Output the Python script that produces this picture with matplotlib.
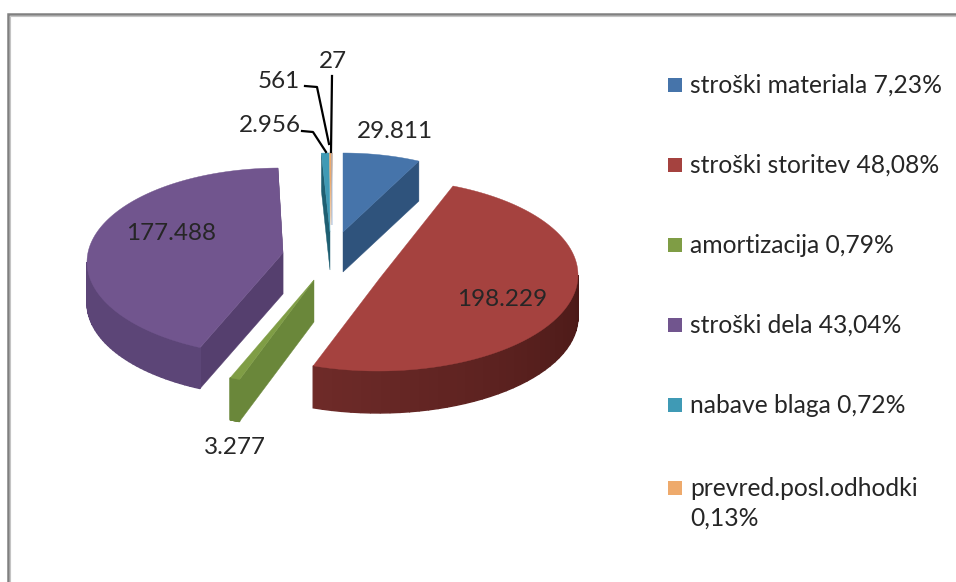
import numpy as np
import matplotlib
matplotlib.use("Agg")
import matplotlib.pyplot as plt
from matplotlib.patches import Polygon, Rectangle

plt.rcParams['font.family'] = ['Lato', 'DejaVu Sans']

# data
values = [29811, 198229, 3277, 177488, 2956, 561, 27]
value_labels = ["29.811", "198.229", "3.277", "177.488", "2.956", "561", "27"]
legend_labels = ["stroški materiala 7,23%", "stroški storitev 48,08%", "amortizacija 0,79%",
                 "stroški dela 43,04%", "nabave blaga 0,72%", "prevred.posl.odhodki\n0,13%"]

# colours: top, wall at the right, wall at the left
top_cols = ["#4674aa", "#a5423f", "#7f9d45", "#71558e", "#3f9ab5", "#eeaa6c", "#8fb0da"]
side_cols = ["#2f537c", "#4a1917", "#6a873a", "#553f6e", "#1f5f72", "#c98a50", "#6f8fb8"]
side_cols2 = ["#2f537c", "#6f2b29", "#6a873a", "#5c4577", "#1f5f72", "#c98a50", "#6f8fb8"]

# how each exploded slice sits in the picture (pixels), faked perspective
# ex, ey, rx, ry, apex x, apex y, depth, rotation, stretch, cut face at start, cut face at end
geom = [
    (343, 233, 173, 80, 343, 232, 40, 0, 1, False, True),
    (378, 275, 200, 96, 380, 278, 42, -4, 1.022, False, False),
    (305, 285, 200, 100, 314, 280, 42, 0, 1, True, False),
    (280, 262, 193, 94, 283, 253, 41, 2.5, 1, True, True),
    (331, 233, 178, 80, 330, 232, 38, 0, 1, True, False),
    (331, 233, 178, 80, 331, 225, 34, 0, 2, False, False),
    (332, 233, 178, 80, 332, 225, 34, 0, 1, False, False),
]
draw_order = [3, 2, 4, 5, 6, 0, 1]

label_pos = [(395, 132), (502, 300), (235, 448), (171, 234), (270, 125), (279, 82), (333, 61)]
leaders = {
    4: [(302, 131), (313, 132), (326, 152)],
    5: [(305, 86), (317, 87), (329, 144)],
    6: [(332, 76), (331, 152)],
}
legend_y = [85, 165, 245, 325, 405, 488]

fig = plt.figure(figsize=(9.56, 5.82), dpi=100)
ax = fig.add_axes([0, 0, 1, 1])
ax.set_xlim(0, 956)
ax.set_ylim(582, 0)
ax.axis('off')

# frame of the screenshot
ax.plot([8, 8, 956], [582, 13.5, 13.5], color="#808080", lw=1.8, solid_joinstyle='miter')
ax.plot([10, 10, 956], [582, 15.5, 15.5], color="#c4c4c4", lw=0.8, solid_joinstyle='miter')

bounds = np.concatenate([[0], np.cumsum(values)]) / sum(values) * 360


def ell(g, phi):
    a = np.radians(phi)
    return g[0] + g[2] * np.sin(a), g[1] - g[3] * np.cos(a)


def mix(c1, c2, t):
    c1 = np.array(matplotlib.colors.to_rgb(c1))
    c2 = np.array(matplotlib.colors.to_rgb(c2))
    return c1 * (1 - t) + c2 * t


for i in draw_order:
    g = geom[i]
    ex, ey, rx, ry, ax0, ay0, d, rot, stretch, cut_a, cut_b = g
    a0 = bounds[i] + rot
    a1 = a0 + (bounds[i + 1] - bounds[i]) * stretch
    phi = np.linspace(a0, a1, 120)
    x, y = ell(g, phi)

    # cut faces
    for flag, k in ((cut_a, 0), (cut_b, -1)):
        if flag:
            pts = [(ax0, ay0), (x[k], y[k]), (x[k], y[k] + d), (ax0, ay0 + d)]
            ax.add_patch(Polygon(pts, closed=True, fc=side_cols[i], ec=side_cols[i], lw=0.3))

    # outer wall, only the part turned to the viewer
    lo = max(a0, 90)
    hi = min(a1, 270)
    if hi > lo:
        steps = np.linspace(lo, hi, 40)
        for j in range(len(steps) - 1):
            xa, ya = ell(g, steps[j:j + 2])
            t = min((steps[j] - 90) / 110, 1)
            col = mix(side_cols[i], side_cols2[i], t)
            pts = [(xa[0], ya[0]), (xa[1], ya[1]), (xa[1], ya[1] + d), (xa[0], ya[0] + d)]
            ax.add_patch(Polygon(pts, closed=True, fc=col, ec=col, lw=1.0))

    # top
    pts = [(ax0, ay0)] + list(zip(x, y))
    ax.add_patch(Polygon(pts, closed=True, fc=top_cols[i], ec=top_cols[i], lw=0.3))

for i, pts in leaders.items():
    ax.plot([p[0] for p in pts], [p[1] for p in pts], color="black", lw=1.6)

for lab, pos in zip(value_labels, label_pos):
    ax.text(pos[0], pos[1], lab, fontsize=17.5, color="#262626", ha='center', va='center')

for i, lab in enumerate(legend_labels):
    yy = legend_y[i]
    ax.add_patch(Rectangle((668, yy - 7), 14, 14, fc=top_cols[i], ec='none'))
    ax.text(690, yy - 11, lab, fontsize=17.7, color="#262626", ha='left', va='top', linespacing=1.32)

fig.savefig("out.png", dpi=100)
